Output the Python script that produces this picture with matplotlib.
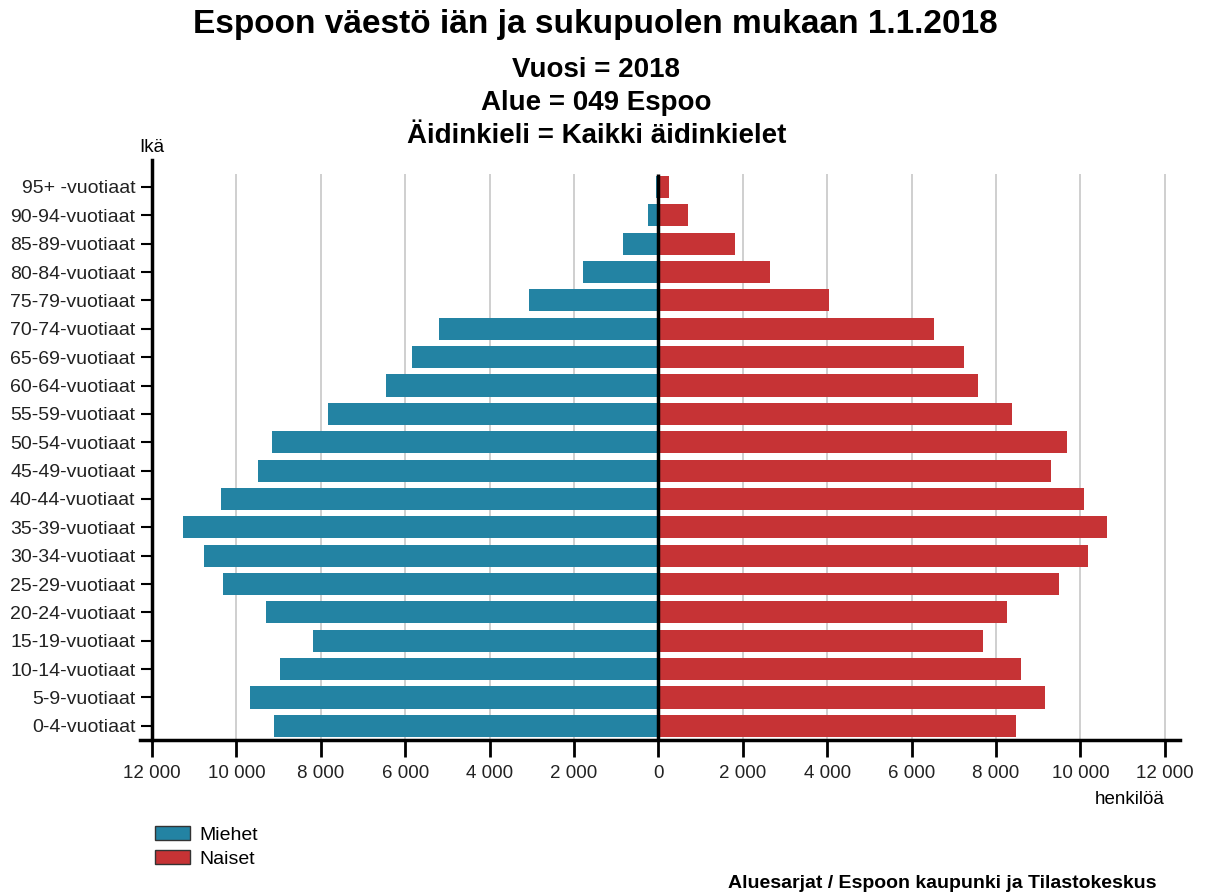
import numpy as np
import matplotlib
matplotlib.use("Agg")
import matplotlib.pyplot as plt
from matplotlib.patches import Patch
from matplotlib.ticker import FuncFormatter

plt.rcParams['font.family'] = ['Liberation Sans', 'DejaVu Sans']

ages = ['0-4-vuotiaat', '5-9-vuotiaat', '10-14-vuotiaat', '15-19-vuotiaat',
        '20-24-vuotiaat', '25-29-vuotiaat', '30-34-vuotiaat', '35-39-vuotiaat',
        '40-44-vuotiaat', '45-49-vuotiaat', '50-54-vuotiaat', '55-59-vuotiaat',
        '60-64-vuotiaat', '65-69-vuotiaat', '70-74-vuotiaat', '75-79-vuotiaat',
        '80-84-vuotiaat', '85-89-vuotiaat', '90-94-vuotiaat', '95+ -vuotiaat']
miehet = [9100, 9690, 8960, 8180, 9310, 10310, 10780, 11260, 10360, 9480,
          9150, 7840, 6450, 5850, 5190, 3060, 1780, 850, 240, 50]
naiset = [8480, 9170, 8580, 7700, 8270, 9500, 10170, 10620, 10090, 9290,
          9670, 8370, 7560, 7250, 6520, 4030, 2650, 1820, 710, 240]
xticks = [-12000, -10000, -8000, -6000, -4000, -2000, 0,
          2000, 4000, 6000, 8000, 10000, 12000]

blue = '#2383a3'
red = '#c63335'

fig = plt.figure(figsize=(12.12, 8.93), dpi=100)
ax = fig.add_axes([0.1155, 0.1713, 0.858, 0.6495])

y = np.arange(len(ages))
ax.vlines([t for t in xticks if t != 0], -0.5, 19.45, color='#cccccc', lw=1.3, zorder=0)
ax.barh(y, [-v for v in miehet], height=0.78, color=blue, zorder=2)
ax.barh(y, naiset, height=0.78, color=red, zorder=2)
ax.vlines(0, -0.5, 19.45, color='black', lw=2.5, zorder=3)

ax.set_xlim(-12285, 12355)
ax.set_ylim(-0.5, 19.95)
ax.set_yticks(y, ages)
ax.set_xticks(xticks)
ax.xaxis.set_major_formatter(FuncFormatter(lambda v, p: f'{abs(int(v)):,}'.replace(',', ' ')))
ax.tick_params(axis='x', length=12, width=2, labelsize=13.5, labelcolor='#222222', pad=6)
ax.tick_params(axis='y', length=8, width=1.5, pad=4, labelsize=14, labelcolor='#222222')

for s in ['top', 'right']:
    ax.spines[s].set_visible(False)
ax.spines['left'].set_position(('data', -12000))
ax.spines['left'].set_linewidth(2.5)
ax.spines['bottom'].set_linewidth(2.5)

fig.text(0.491, 1 - 25 / 893, 'Espoon väestö iän ja sukupuolen mukaan 1.1.2018',
         ha='center', va='center', fontsize=24, fontweight='bold')
fig.text(0.492, 1 - 70 / 893, 'Vuosi = 2018', ha='center', va='center', fontsize=20, fontweight='bold')
fig.text(0.492, 1 - 103 / 893, 'Alue = 049 Espoo', ha='center', va='center', fontsize=20, fontweight='bold')
fig.text(0.492, 1 - 136 / 893, 'Äidinkieli = Kaikki äidinkielet', ha='center', va='center',
         fontsize=20, fontweight='bold')
fig.text(152 / 1212, 1 - 147 / 893, 'Ikä', ha='center', va='center', fontsize=13.5)
fig.text(1165 / 1212, 1 - 800 / 893, 'henkilöä', ha='right', va='center', fontsize=13.5)
fig.text(1157 / 1212, 1 - 883 / 893, 'Aluesarjat / Espoon kaupunki ja Tilastokeskus',
         ha='right', va='center', fontsize=14, fontweight='bold')

handles = [Patch(facecolor=blue, edgecolor='#333333', label='Miehet'),
           Patch(facecolor=red, edgecolor='#333333', label='Naiset')]
fig.legend(handles=handles, loc='upper left', bbox_to_anchor=(137 / 1212, 1 - 808 / 893),
           frameon=False, fontsize=14, handlelength=1.85, handleheight=0.8,
           labelspacing=0.3, handletextpad=0.45)

fig.savefig('out.png', dpi=100)
